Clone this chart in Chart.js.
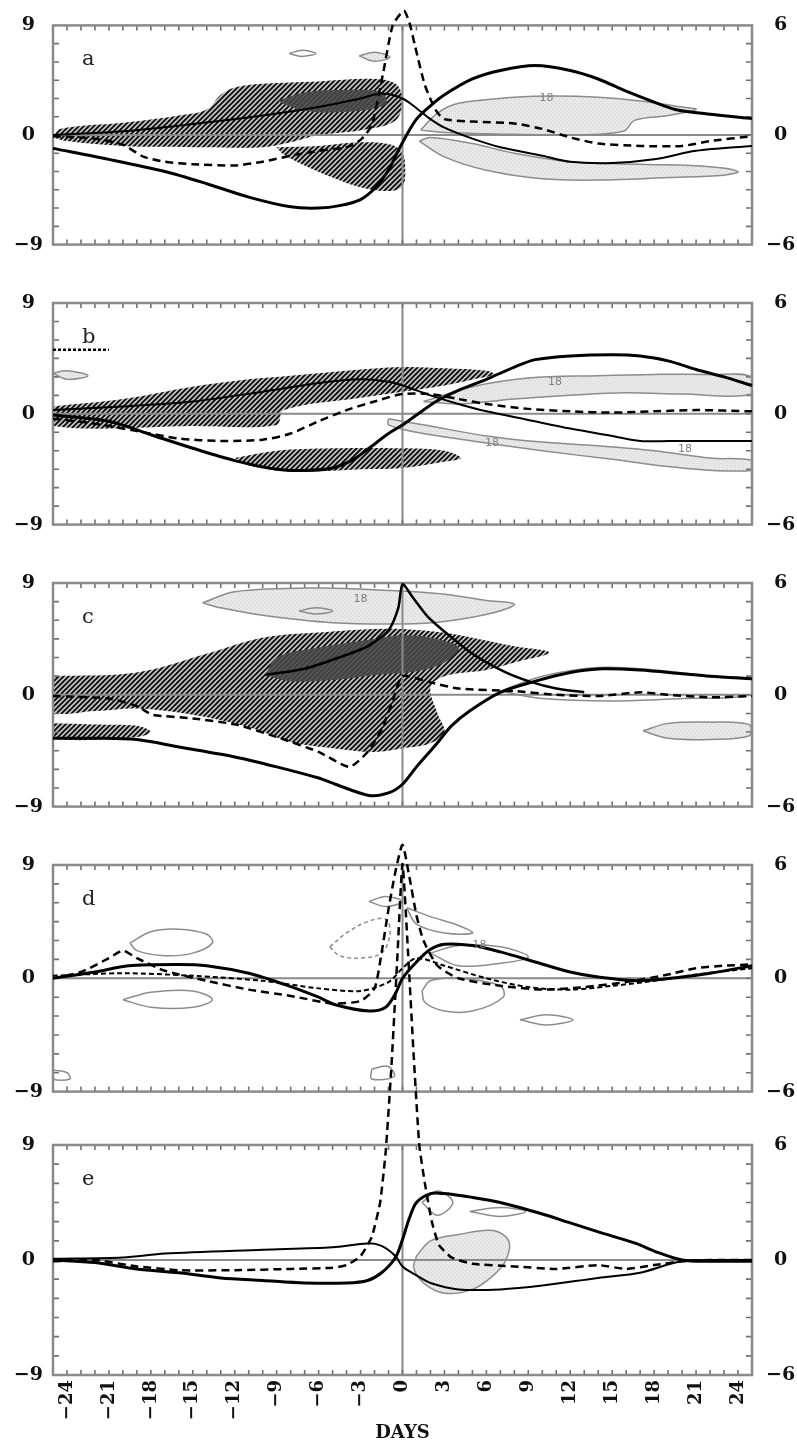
<!DOCTYPE html>
<html>
<head>
<meta charset="utf-8">
<script src="https://cdn.jsdelivr.net/npm/chart.js@4.4.1/dist/chart.umd.min.js"></script>
<style>
  html, body { margin: 0; padding: 0; background: #fff; }
  #wrap { position: relative; width: 797px; height: 1452px; overflow: hidden; }
  canvas { position: absolute; left: 0; }
</style>
</head>
<body>
<div id="wrap"></div>
<script>
// x tick labels (days)
const xTicks = [-24, -21, -18, -15, -12, -9, -6, -3, 0, 3, 6, 9, 12, 15, 18, 21, 24];

// ---- panel a : [day, value] ----
const aSolid = [[-25,-1.1],[-21,-2.0],[-17,-3.0],[-14,-4.0],[-11,-5.1],[-8,-5.9],[-6,-6.0],[-4.5,-5.8],[-3,-5.3],[-2,-4.4],[-1,-2.9],[-0.4,-1.5],[0.2,-0.2],[1,1.3],[2,2.4],[3,3.3],[5,4.6],[7,5.3],[9.5,5.7],[12,5.3],[14,4.6],[16,3.6],[18,2.7],[19.5,2.1],[22,1.7],[25,1.35]];
const aThin = [[-25,0],[-20,0.3],[-15,0.9],[-10,1.6],[-6,2.3],[-3,3.0],[-1.5,3.4],[0,3.0],[1,2.2],[2,1.3],[3,0.6],[5,-0.3],[7,-1.0],[10,-1.7],[12,-2.2],[15,-2.3],[18,-2.0],[21,-1.3],[25,-0.9]];
const aDash = [[-25,-0.1],[-22,-0.3],[-20,-0.8],[-18.5,-1.8],[-17,-2.2],[-15,-2.4],[-12,-2.5],[-10,-2.2],[-8,-1.7],[-6,-1.3],[-4,-1.0],[-3,-0.4],[-2.2,0.8],[-1.4,5.0],[-0.7,9.0],[0.1,10.2],[0.5,9.2],[0.9,7.3],[1.6,4.1],[2.4,2.0],[3,1.3],[5,1.1],[8,0.95],[10,0.5],[12,-0.2],[14,-0.7],[17,-0.9],[20,-0.9],[22,-0.5],[25,-0.1]];
const aHatch1 = [[-25,-0.2],[-24.5,0.5],[-20,1.0],[-16,1.6],[-14,2.1],[-13,3.3],[-12,3.9],[-10,4.2],[-6,4.4],[-2,4.6],[-0.5,4.2],[0,3.0],[-0.5,1.2],[-3,0.4],[-6,0.0],[-8,-0.6],[-10,-1.0],[-14,-1.0],[-20,-0.9],[-24,-0.5]];
const aHatch2 = [[-9,-1.0],[-6,-0.9],[-3,-0.6],[-0.8,-0.8],[0,-1.5],[0.2,-3.0],[0,-4.2],[-1,-4.6],[-3,-4.3],[-5,-3.5],[-7,-2.5],[-8.5,-1.6]];
const aDark = [[-9,2.8],[-7,3.5],[-4,3.7],[-1.5,3.5],[-1.2,2.5],[-4,1.9],[-7,2.0]];
const aLight1 = [[1.3,0.4],[2.5,1.8],[4,2.6],[8,3.1],[11,3.2],[14,3.1],[17,2.8],[20,2.3],[21,2.1],[19,1.6],[16.6,1.2],[15.8,0.3],[12,0.0],[6,0.1],[3,0.2]];
const aLight2 = [[1.2,-0.5],[3,-1.8],[6,-2.9],[10,-3.6],[14,-3.7],[19,-3.5],[23,-3.3],[24,-3.0],[22,-2.6],[17,-2.4],[12,-2.2],[8,-1.5],[5,-0.7],[2,-0.2]];
const aOval1 = [[-8.1,6.7],[-7.2,6.95],[-6.2,6.7],[-7.2,6.45]];
const aOval2 = [[-3.1,6.5],[-2,6.8],[-0.9,6.4],[-2,6.05]];

// ---- panel b ----
const bSolid = [[-25,-0.1],[-21,-0.6],[-18,-1.7],[-15,-2.8],[-12,-3.8],[-9,-4.5],[-7,-4.6],[-5,-4.4],[-3.5,-3.7],[-2.4,-2.8],[-1,-1.6],[0,-0.9],[1,-0.1],[2.4,1.0],[4,1.9],[6,2.8],[8,3.8],[9.5,4.4],[12,4.7],[15,4.8],[17,4.7],[19,4.3],[21,3.6],[23,3.0],[25,2.3]];
const bThin = [[-25,0.3],[-20,0.6],[-15,1.0],[-10,1.8],[-6,2.5],[-3,2.8],[-1,2.6],[0,2.3],[2,1.5],[4,0.8],[6,0.2],[9,-0.5],[12,-1.2],[15,-1.8],[17,-2.2],[20,-2.2],[25,-2.2]];
const bDash = [[-25,-0.4],[-22,-0.8],[-19,-1.4],[-16,-2.0],[-13,-2.2],[-10,-2.1],[-8,-1.6],[-6,-0.6],[-4,0.3],[-2,1.0],[0,1.6],[2,1.6],[4,1.2],[6,0.8],[9,0.4],[12,0.2],[15,0.1],[18,0.2],[21,0.3],[25,0.2]];
const bMark = [[-25,5.2],[-21,5.2]];
const bHatch1 = [[-25,0.6],[-20,1.2],[-15,2.2],[-11,2.8],[-8,3.1],[-4,3.5],[0,3.8],[3,3.7],[6,3.5],[6.6,3.2],[5.5,2.9],[3,2.3],[0,1.8],[-3,1.3],[-8.5,0.3],[-9,-0.9],[-15,-1.0],[-25,-1.0]];
const bHatch2 = [[-12,-3.6],[-9,-3.0],[-5,-2.8],[0,-2.8],[3,-3.0],[4.2,-3.6],[3,-3.9],[0,-4.4],[-3,-4.5],[-7,-4.7],[-9,-4.6],[-11,-4.2]];
const bLight1 = [[1.5,1.0],[5,2.2],[9,2.9],[14,3.1],[18,3.2],[22,3.2],[25,3.0],[25,1.6],[20,1.6],[16,1.7],[12,1.5],[8,1.2],[4,0.8]];
const bLight2 = [[-1,-0.4],[2,-1.0],[6,-1.8],[10,-2.3],[14,-2.6],[18,-3.0],[22,-3.6],[25,-3.8],[25,-4.6],[20,-4.4],[15,-3.7],[10,-3.0],[5,-2.2],[1,-1.5],[-1,-0.9]];
const bOval = [[-25,3.3],[-24,3.5],[-22.5,3.1],[-24,2.8]];

// ---- panel c ----
const cSolid = [[-25,-3.5],[-22,-3.5],[-19,-3.6],[-16,-4.2],[-12,-5.0],[-9,-5.8],[-6,-6.7],[-4.8,-7.2],[-2.4,-8.1],[-1,-7.9],[0,-7.2],[1,-5.8],[2.4,-4.0],[3.5,-2.5],[4.8,-1.3],[7,0.2],[9.5,1.1],[12,1.8],[14.3,2.1],[17,2.0],[20,1.7],[22,1.5],[25,1.3]];
const cThin = [[-9.8,1.6],[-7,2.1],[-4.8,2.9],[-2.5,3.9],[-1,5.2],[-0.3,7.0],[0,8.9],[0.7,7.9],[1.8,6.3],[3.1,5.0],[5,3.3],[7.2,1.9],[9,1.1],[11,0.5],[13,0.2]];
const cDash = [[-25,-0.1],[-21,-0.3],[-19,-0.9],[-17.9,-1.6],[-15,-1.9],[-11.9,-2.4],[-9,-3.4],[-6,-4.6],[-3.8,-5.8],[-2.5,-4.6],[-1.5,-2.8],[-0.7,-0.5],[0,1.5],[2,1.0],[4,0.5],[8,0.3],[11,0.0],[14,-0.1],[17,0.2],[19,0.0],[22,-0.2],[25,-0.1]];
const cHatch1 = [[-25,1.5],[-19,1.8],[-14,3.3],[-10,4.6],[-5,5.1],[-2,5.3],[0,5.3],[3,5.0],[5,4.6],[8,3.9],[10.5,3.4],[8,2.6],[6,2.0],[3,1.5],[2,0.6],[2.5,-1.5],[3,-3.0],[2,-3.9],[0,-4.3],[-2,-4.6],[-5,-4.3],[-8,-3.8],[-11,-2.6],[-15,-1.6],[-19,-1.1],[-22,-1.3],[-25,-1.3]];
const cHatch2 = [[-25,-2.3],[-22,-2.4],[-19,-2.5],[-18,-3.0],[-19,-3.4],[-25,-3.5]];
const cDark = [[-9.8,1.6],[-9,3.0],[-6,3.8],[-2,4.5],[0,4.8],[2,4.6],[4,3.8],[3,2.6],[1,1.9],[-2,1.6],[-5,1.2],[-8,1.1]];
const cLight1 = [[-14.3,7.4],[-12,8.3],[-6,8.6],[-1,8.4],[3,8.1],[6,7.6],[8,7.3],[6.5,6.6],[3,5.9],[0,5.7],[-5,5.8],[-10,6.4],[-13,7.0]];
const cLight2 = [[17.2,-2.9],[19,-2.3],[22,-2.2],[24.8,-2.4],[24.8,-3.3],[22,-3.6],[19,-3.5]];
const cOval = [[-7.4,6.75],[-6.2,7.0],[-5,6.75],[-6.2,6.5]];
const cLoop = [[7,0.3],[10,1.5],[14,2.2],[18,2.0],[22,1.5],[25,1.2],[25,0.0],[20,-0.3],[15,-0.5],[10,-0.3]];

// ---- panel d ----
const dSolid = [[-25,0],[-22,0.5],[-19.6,1.0],[-16,1.1],[-14,1.0],[-11,0.4],[-8.4,-0.5],[-6,-1.5],[-4.8,-2.1],[-2.4,-2.6],[-1.2,-2.3],[-0.5,-1.2],[0,0],[1,1.3],[2,2.3],[3,2.7],[5,2.6],[7,2.1],[9.5,1.3],[12,0.5],[14,0.1],[17,-0.2],[20,0.1],[22,0.4],[25,1.0]];
const dThin = [[-25,0.2],[-20,0.4],[-15,0.2],[-10,-0.2],[-6,-0.8],[-3,-1.0],[-1,-0.3],[0,0.8],[1,1.6],[3,1.0],[6,0.0],[9,-0.7],[12,-0.9],[15,-0.6],[18,-0.2],[21,0.3],[25,0.8]];
const dDash = [[-25,0],[-23,0.5],[-21,1.6],[-20,2.2],[-19,1.6],[-17,0.6],[-14,-0.2],[-11,-0.9],[-8,-1.4],[-5,-2.0],[-3,-1.8],[-2,-0.8],[-1.5,2.0],[-1,5.5],[-0.5,8.5],[0,10.6],[0.5,8.0],[1,5.0],[1.5,3.0],[2.5,1.0],[4,0.0],[7,-0.6],[10,-0.9],[13,-0.7],[16,-0.3],[19,0.3],[21,0.8],[23,1.0],[25,1.1]];
const dOval1 = [[-19.5,2.8],[-18,3.7],[-16,3.9],[-14,3.5],[-13.6,2.8],[-15,2.0],[-17,1.8],[-19,2.2]];
const dOval2 = [[-20,-1.7],[-18,-1.1],[-15,-1.0],[-13.6,-1.7],[-15,-2.3],[-18,-2.3]];
const dOval3 = [[-2.4,6.1],[-1.2,6.5],[0,6.1],[-1.2,5.7]];
const dTail = [[0.3,5.6],[2,4.9],[4,4.2],[5,3.6],[3,3.6],[1,4.3]];
const dLoop1 = [[2,2.0],[4,2.6],[7,2.5],[9,1.7],[7,1.2],[4,1.0]];
const dOval4 = [[1.4,-1.0],[2,-0.2],[4,0.0],[7,-0.6],[7.2,-1.5],[5,-2.6],[3,-2.6],[1.6,-1.9]];
const dOval5 = [[8.4,-3.3],[10.3,-2.9],[12.2,-3.3],[10.3,-3.7]];
const dSmall1 = [[-25,-7.3],[-24,-7.5],[-23.8,-8.0],[-25,-8.0]];
const dSmall2 = [[-2.2,-7.2],[-1,-7.0],[-0.6,-7.8],[-2.2,-8.0]];
const dLoop2 = [[-5.2,2.5],[-4,3.6],[-2.5,4.5],[-1.2,4.7],[-0.9,3.5],[-1.5,2.0],[-3,1.6],[-4.5,1.8]];

// ---- panel e ----
const eSolid = [[-25,0],[-22,-0.2],[-19,-0.7],[-16,-1.0],[-13,-1.4],[-10,-1.6],[-7,-1.8],[-4,-1.8],[-2.5,-1.6],[-1.5,-1.0],[-0.5,0.2],[0,1.6],[0.5,3.3],[1,4.5],[2,5.2],[3,5.2],[5,4.9],[7,4.5],[10,3.6],[12,2.9],[14,2.2],[16.7,1.3],[18,0.7],[20,0.0],[22,-0.1],[25,-0.1]];
const eThin = [[-25,0.1],[-20,0.2],[-17,0.5],[-10,0.8],[-5,1.0],[-2.5,1.3],[-1.5,1.1],[-0.5,0.3],[0,-0.5],[1,-1.2],[2,-1.8],[4,-2.3],[7,-2.3],[10,-2.0],[14,-1.4],[17,-1.0],[20,-0.1],[25,0]];
const eDash = [[-25,-0.1],[-22,0],[-19,-0.5],[-16,-0.8],[-12,-0.8],[-8,-0.7],[-5,-0.6],[-4,-0.4],[-3,0.3],[-2.2,1.8],[-1.6,4.5],[-1.2,8.5],[-0.8,15],[-0.4,23],[0,31],[0.4,24],[0.8,16],[1.2,9],[1.6,6],[2.1,3],[2.6,1.2],[3.5,0.2],[5,-0.3],[8,-0.5],[11,-0.7],[14,-0.4],[16,-0.7],[18,-0.4],[20,-0.1],[22,0],[25,0]];
const eLight = [[1,0.3],[2,1.5],[4,2.0],[6.5,2.3],[7.6,1.5],[7.4,0],[6.5,-1.2],[5,-2.3],[3,-2.6],[1.5,-1.8],[0.8,-0.6]];
const eOval1 = [[1.4,4.5],[2.5,5.4],[3.6,4.5],[2.5,3.5]];
const eOval2 = [[4.8,3.8],[7,4.1],[8.8,3.8],[7,3.4]];

// patterns
function makePattern(size, bg, draw) {
  const c = document.createElement('canvas');
  c.width = size; c.height = size;
  const g = c.getContext('2d');
  g.fillStyle = bg;
  g.fillRect(0, 0, size, size);
  draw(g, size);
  return g.createPattern(c, 'repeat');
}
const hatch = makePattern(5, '#c8c8c8', (g, s) => {
  g.strokeStyle = '#0a0a0a';
  g.lineWidth = 1.9;
  g.beginPath();
  g.moveTo(-1, s + 1); g.lineTo(s + 1, -1);
  g.moveTo(-1, 1); g.lineTo(1, -1);
  g.moveTo(s - 1, s + 1); g.lineTo(s + 1, s - 1);
  g.stroke();
});
const dark = makePattern(5, '#444', (g, s) => {
  g.strokeStyle = '#626262';
  g.lineWidth = 1;
  g.beginPath();
  g.moveTo(0, s); g.lineTo(s, 0);
  g.stroke();
});
const light = makePattern(4, '#e9e9e9', (g) => {
  g.fillStyle = '#cdcdcd';
  g.fillRect(1, 1, 1, 1);
  g.fillRect(3, 3, 1, 1);
});

const fmt = v => (v < 0 ? '\u2212' + Math.abs(v) : String(v));

function pts(a) { return a.map(([x, y]) => ({ x, y })); }
function lineDs(a, w, dash, tension, order) {
  return { data: pts(a), borderColor: '#000', borderWidth: w, borderDash: dash || [],
    tension: tension, pointRadius: 0, fill: false, clip: false, order: order };
}
function blobDs(a, fill, border, order, dash) {
  return { data: pts(a.concat([a[0]])), fill: fill ? 'shape' : false,
    backgroundColor: fill || 'transparent', borderColor: border || 'transparent',
    borderWidth: 1.5, borderDash: dash || [], tension: 0.35, pointRadius: 0, order: order };
}

const panels = [
  { letter: 'a', top: 0, padTop: 22, plotH: 226,
    lines: [lineDs(aSolid, 3, null, 0.3, 0), lineDs(aDash, 2.5, [8, 5], 0.2, 1), lineDs(aThin, 2, null, 0.3, 2)],
    blobs: [blobDs(aOval1, null, '#8c8c8c', 3), blobDs(aOval2, light, '#8c8c8c', 3),
      blobDs(aDark, dark, null, 4), blobDs(aHatch1, hatch, null, 5), blobDs(aHatch2, hatch, null, 5),
      blobDs(aLight1, light, '#8c8c8c', 6), blobDs(aLight2, light, '#8c8c8c', 6)],
    labels: [[10.3, 3.0, '18']] },
  { letter: 'b', top: 270, padTop: 33, plotH: 225,
    lines: [lineDs(bSolid, 3, null, 0.3, 0), lineDs(bDash, 2.5, [8, 5], 0.3, 1), lineDs(bThin, 2, null, 0.3, 2),
      lineDs(bMark, 2.5, [3, 2], 0, 2)],
    blobs: [blobDs(bOval, light, '#8c8c8c', 3), blobDs(bHatch1, hatch, null, 5), blobDs(bHatch2, hatch, null, 5),
      blobDs(bLight1, light, '#8c8c8c', 6), blobDs(bLight2, light, '#8c8c8c', 6)],
    labels: [[10.9, 2.6, '18'], [6.4, -2.4, '18'], [20.2, -2.9, '18']] },
  { letter: 'c', top: 545, padTop: 38, plotH: 227,
    lines: [lineDs(cSolid, 3, null, 0.3, 0), lineDs(cDash, 2.5, [8, 5], 0.2, 1), lineDs(cThin, 2.5, null, 0.25, 2)],
    blobs: [blobDs(cOval, null, '#8c8c8c', 3), blobDs(cLoop, null, '#8c8c8c', 3),
      blobDs(cDark, dark, null, 4), blobDs(cHatch1, hatch, null, 5), blobDs(cHatch2, hatch, null, 5),
      blobDs(cLight1, light, '#8c8c8c', 6), blobDs(cLight2, light, '#8c8c8c', 6)],
    labels: [[-3, 7.7, '18']] },
  { letter: 'd', top: 820, padTop: 45, plotH: 230,
    lines: [lineDs(dSolid, 3, null, 0.3, 0), lineDs(dDash, 2.5, [8, 5], 0.2, 1), lineDs(dThin, 2, [5, 3], 0.3, 2)],
    blobs: [blobDs(dOval1, null, '#8c8c8c', 3), blobDs(dOval2, null, '#8c8c8c', 3), blobDs(dOval3, null, '#8c8c8c', 3),
      blobDs(dTail, null, '#8c8c8c', 3), blobDs(dLoop1, null, '#8c8c8c', 3), blobDs(dOval4, null, '#8c8c8c', 3),
      blobDs(dOval5, null, '#8c8c8c', 3), blobDs(dSmall1, null, '#8c8c8c', 3), blobDs(dSmall2, null, '#8c8c8c', 3),
      blobDs(dLoop2, null, '#8c8c8c', 3, [4, 3])],
    labels: [[5.5, 2.6, '18']] },
  { letter: 'e', top: 845, padTop: 300, plotH: 230, axis: true,
    lines: [lineDs(eSolid, 3, null, 0.3, 0), lineDs(eDash, 2.5, [8, 5], 0.15, 1), lineDs(eThin, 2, null, 0.3, 2)],
    blobs: [blobDs(eOval1, null, '#8c8c8c', 3), blobDs(eOval2, null, '#8c8c8c', 3),
      blobDs(eLight, light, '#8c8c8c', 6)],
    labels: [] },
];

Chart.defaults.font.family = 'DejaVu Serif';
Chart.defaults.color = '#111';

function framePlugin(p) {
  return {
    id: 'frame' + p.letter,
    beforeDatasetsDraw(chart) {
      const { ctx, chartArea: { left, right, top, bottom } } = chart;
      const xs = chart.scales.x;
      const ys = chart.scales.y;
      ctx.save();
      ctx.strokeStyle = '#8a8a8a';
      ctx.lineWidth = 2;
      const y0 = ys.getPixelForValue(0);
      const x0 = xs.getPixelForValue(0);
      ctx.beginPath();
      ctx.moveTo(left, y0); ctx.lineTo(right, y0);
      ctx.moveTo(x0, top); ctx.lineTo(x0, bottom);
      ctx.stroke();
      ctx.strokeStyle = '#707070';
      ctx.lineWidth = 1.6;
      ctx.beginPath();
      for (let d = -24; d <= 24; d++) {
        const x = xs.getPixelForValue(d);
        ctx.moveTo(x, top); ctx.lineTo(x, top + 5);
        ctx.moveTo(x, bottom); ctx.lineTo(x, bottom - 5);
      }
      for (let k = -5; k <= 5; k++) {
        const y = ys.getPixelForValue(k * 1.5);
        ctx.moveTo(left, y); ctx.lineTo(left + 6, y);
        ctx.moveTo(right, y); ctx.lineTo(right - 6, y);
      }
      ctx.stroke();
      ctx.strokeStyle = '#8a8a8a';
      ctx.lineWidth = 2.5;
      ctx.strokeRect(left, top, right - left, bottom - top);
      ctx.fillStyle = '#222';
      ctx.font = '21px "DejaVu Serif"';
      ctx.textBaseline = 'alphabetic';
      ctx.fillText(p.letter, left + 29, top + 40);
      ctx.restore();
    },
    afterDatasetsDraw(chart) {
      const { ctx } = chart;
      ctx.save();
      ctx.fillStyle = '#808080';
      ctx.font = '11px "DejaVu Sans"';
      ctx.textAlign = 'center';
      ctx.textBaseline = 'middle';
      p.labels.forEach(([d, v, t]) => {
        ctx.fillText(t, chart.scales.x.getPixelForValue(d), chart.scales.y.getPixelForValue(v));
      });
      ctx.restore();
    },
  };
}

const wrap = document.getElementById('wrap');
panels.forEach(p => {
  const axisH = p.axis ? 77 : 0;
  const padBottom = p.axis ? 0 : 22;
  const h = p.padTop + p.plotH + axisH + padBottom;
  const cv = document.createElement('canvas');
  cv.width = 797; cv.height = h;
  cv.style.top = p.top + 'px';
  cv.style.width = '797px'; cv.style.height = h + 'px';
  wrap.appendChild(cv);

  new Chart(cv.getContext('2d'), {
    type: 'line',
    data: { datasets: p.lines.concat(p.blobs) },
    plugins: [framePlugin(p)],
    options: {
      responsive: false,
      animation: false,
      devicePixelRatio: 1,
      events: [],
      layout: { padding: { top: p.padTop, bottom: padBottom, left: 0, right: 0 } },
      plugins: {
        legend: { display: false },
        tooltip: { enabled: false },
        filler: { drawTime: 'beforeDatasetsDraw', propagate: false },
      },
      scales: {
        x: {
          type: 'linear', min: -25, max: 25, display: !!p.axis,
          grid: { display: false, drawTicks: false }, border: { display: false },
          afterBuildTicks: s => { s.ticks = xTicks.map(v => ({ value: v })); },
          afterFit: s => { s.height = axisH; },
          ticks: { autoSkip: false, minRotation: 90, maxRotation: 90, padding: 5,
            font: { size: 18, weight: 'bold' }, color: '#111', callback: v => fmt(v) },
          title: { display: true, text: 'DAYS', font: { size: 18, weight: 'bold' }, color: '#111',
            padding: { top: 2, bottom: 8 } },
        },
        y: {
          position: 'left', min: -9, max: 9,
          grid: { display: false, drawTicks: false }, border: { display: false },
          afterFit: s => { s.width = 53; },
          ticks: { stepSize: 9, padding: 10, crossAlign: 'center',
            font: { size: 19, weight: 'bold' }, color: '#111', callback: v => fmt(v) },
        },
        y2: {
          position: 'right', min: -6, max: 6,
          grid: { display: false, drawTicks: false }, border: { display: false },
          afterFit: s => { s.width = 45; },
          ticks: { stepSize: 6, padding: 14, crossAlign: 'center',
            font: { size: 19, weight: 'bold' }, color: '#111', callback: v => fmt(v) },
        },
      },
    },
  });
});
</script>
</body>
</html>
